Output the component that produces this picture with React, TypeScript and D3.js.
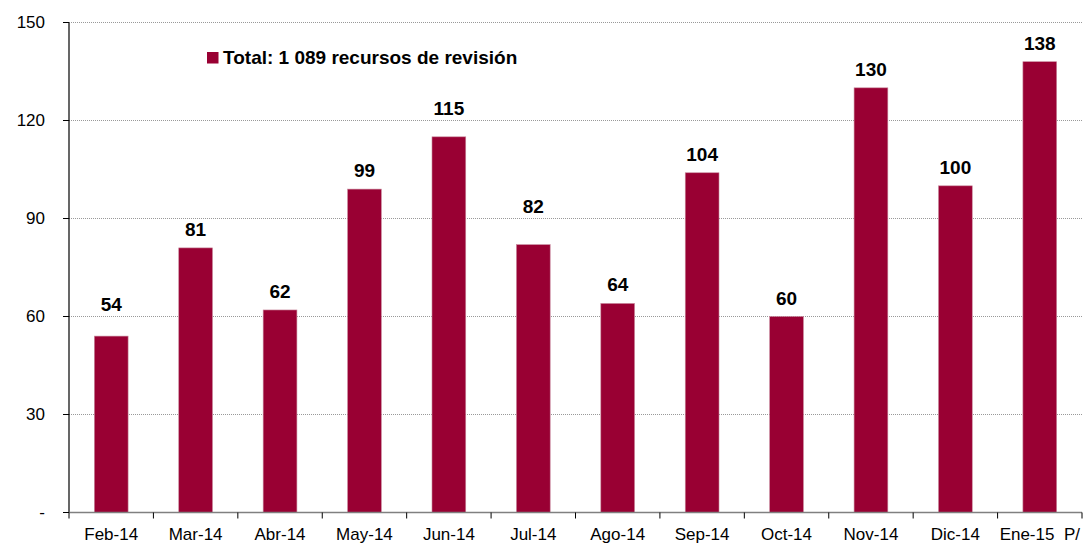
import React from 'react'
import * as d3 from 'd3'

const months = ['Feb-14', 'Mar-14', 'Abr-14', 'May-14', 'Jun-14', 'Jul-14', 'Ago-14', 'Sep-14', 'Oct-14', 'Nov-14', 'Dic-14', 'Ene-15  P/']
const recursos = [54, 81, 62, 99, 115, 82, 64, 104, 60, 130, 100, 138]
const yTicks = [0, 30, 60, 90, 120, 150]
const legendLabel = 'Total: 1 089 recursos de revisión'

export default function App() {
  const dims = { w: 1083, h: 543, left: 69, right: 1082, top: 22.5, bottom: 512.5 }
  const barColor = '#990033'
  const font = 'Arial, "Liberation Sans", sans-serif'

  const x = d3.scaleBand<string>()
    .domain(months)
    .range([dims.left, dims.right])
    .paddingInner(0.6)
    .paddingOuter(0.3)
  const y = d3.scaleLinear().domain([0, 150]).range([dims.bottom, dims.top])
  const step = x.step()

  // value label centre: above bar, lifted over a gridline when it would sit on it
  const labelCenter = (v: number) => {
    let c = y(v) - 19
    yTicks.filter(t => t > 0).forEach(t => {
      if (Math.abs(c - y(t)) < 9) c = y(t) - 13
    })
    return c
  }

  return (
    <div style={{ position: 'absolute', left: 0, top: 0 }}>
      <svg width={dims.w} height={dims.h} style={{ display: 'block' }} fontFamily={font}>
        {/* grid */}
        {yTicks.filter(t => t > 0).map(t => (
          <line key={'g' + t} x1={dims.left} x2={dims.right} y1={y(t)} y2={y(t)}
            stroke='#999' strokeWidth={1} strokeDasharray='1,1' />
        ))}
        {/* bars */}
        {months.map((m, i) => (
          <rect key={m} x={x(m)} y={y(recursos[i])} width={x.bandwidth()}
            height={dims.bottom - y(recursos[i])} fill={barColor} stroke='#c98a9e' strokeWidth={0.6} />
        ))}
        {/* value labels */}
        {months.map((m, i) => (
          <text key={'v' + m} x={(x(m) ?? 0) + x.bandwidth() / 2} y={labelCenter(recursos[i]) + 7}
            textAnchor='middle' fontSize={19} fontWeight='bold' fill='#000'>{recursos[i]}</text>
        ))}
        {/* y axis */}
        <line x1={dims.left} x2={dims.left} y1={dims.top} y2={dims.bottom} stroke='#000' strokeWidth={1.2} />
        {yTicks.map(t => (
          <g key={'y' + t}>
            <line x1={dims.left - 6} x2={dims.left} y1={y(t)} y2={y(t)} stroke='#000' strokeWidth={1} />
            <text x={45} y={y(t)} dy='0.35em' textAnchor='end' fontSize={17} fill='#000'>
              {t === 0 ? '-' : t}
            </text>
          </g>
        ))}
        {/* x axis */}
        <line x1={dims.left} x2={dims.right} y1={dims.bottom} y2={dims.bottom} stroke='#808080' strokeWidth={1.5} />
        {d3.range(months.length + 1).map(i => (
          <line key={'xt' + i} x1={dims.left + i * step} x2={dims.left + i * step}
            y1={dims.bottom} y2={dims.bottom + 6} stroke='#000' strokeWidth={1} />
        ))}
        {months.map(m => (
          <text key={'x' + m} x={(x(m) ?? 0) + x.bandwidth() / 2} y={539.5} textAnchor='middle'
            fontSize={17} fill='#000' style={{ whiteSpace: 'pre' }}>{m}</text>
        ))}
        {/* legend */}
        <rect x={207} y={52} width={11.5} height={11.5} fill={barColor} />
        <text x={223} y={63.5} fontSize={19} fontWeight='bold' fill='#000'>{legendLabel}</text>
      </svg>
    </div>
  )
}
